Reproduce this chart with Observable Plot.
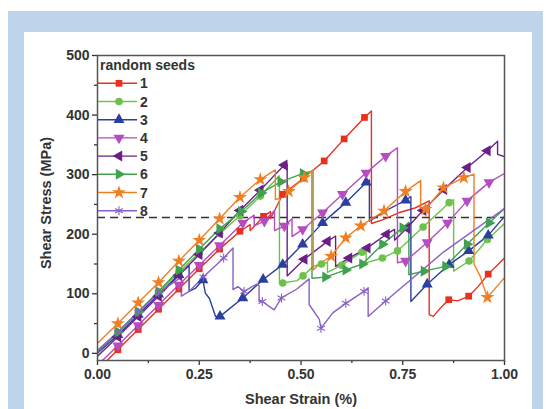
<!DOCTYPE html>
<html><head><meta charset="utf-8">
<script src="https://cdn.jsdelivr.net/npm/d3@7"></script>
<script src="https://cdn.jsdelivr.net/npm/@observablehq/plot@0.6"></script>
<style>
body{margin:0;width:552px;height:409px;overflow:hidden;background:#fff;position:relative;font-family:"Liberation Sans",Arial,sans-serif}
#blue{position:absolute;left:8px;top:11px;width:535px;height:398px;background:#bdd4ea}
#panel{position:absolute;left:24px;top:32px;width:508px;height:377px;background:#fff}
#chart{position:absolute;left:0;top:0}
</style></head><body>
<div id="blue"></div><div id="panel"></div><div id="chart"></div>
<script>
// ---- data: [strain, stress (MPa), marker?] ----
const seeds = ["1","2","3","4","5","6","7","8"];
const colors = ["#e8301f","#6cc24a","#2b3f9e","#b54cbf","#6b1f86","#3ea24f","#f07f24","#8a60c6"];
const legendTitle = "random seeds";
const xTicks = [0, 0.25, 0.5, 0.75, 1];
const xMinor = [0.125, 0.375, 0.625, 0.875];
const yTicks = [0, 100, 200, 300, 400, 500];
const yMinor = [50, 150, 250, 350, 450];
const refStress = [228];

const s1 = [[0,-28,0],[0.05,6,1],[0.10,40,1],[0.15,74,1],[0.20,108,1],[0.25,142,1],[0.30,175,1],[0.35,205,1],[0.375,216,0],[0.375,206,0],[0.408,230,1],[0.425,238,0],[0.425,226,0],[0.455,267,1],[0.506,294,1],[0.557,323,1],[0.606,360,1],[0.656,396,1],[0.673,407,0],[0.673,218,0],[0.70,224,0],[0.74,236,0],[0.78,244,0],[0.815,256,0],[0.815,65,0],[0.825,62,0],[0.845,78,0],[0.863,90,1],[0.885,88,0],[0.912,96,1],[0.935,112,0],[0.96,133,1],[1.0,160,0]];
const s2 = [[0,3,0],[0.05,35,1],[0.10,68,1],[0.15,102,1],[0.20,136,1],[0.25,169,1],[0.30,201,1],[0.35,231,1],[0.40,264,1],[0.447,298,0],[0.447,118,0],[0.455,118,1],[0.49,122,0],[0.505,130,1],[0.53,146,0],[0.55,150,1],[0.565,153,0],[0.565,136,0],[0.60,148,1],[0.65,170,1],[0.66,174,0],[0.66,152,0],[0.70,160,1],[0.737,172,1],[0.80,212,1],[0.864,253,1],[0.875,258,0],[0.875,138,0],[0.913,155,1],[0.958,191,1],[1.0,218,0]];
const s3 = [[0,0,0],[0.05,31,1],[0.10,65,1],[0.15,99,1],[0.20,132,1],[0.225,147,0],[0.225,104,0],[0.24,109,0],[0.259,123,1],[0.265,101,0],[0.275,92,0],[0.283,76,0],[0.29,62,0],[0.301,62,1],[0.357,93,1],[0.407,124,1],[0.455,149,1],[0.504,183,1],[0.553,219,1],[0.61,253,1],[0.66,287,1],[0.668,291,0],[0.668,222,0],[0.71,240,0],[0.757,257,1],[0.77,263,0],[0.77,87,0],[0.81,116,1],[0.864,149,1],[0.912,172,1],[0.96,198,1],[1.0,230,0]];
const s4 = [[0,-20,0],[0.05,13,1],[0.10,47,1],[0.15,81,1],[0.20,115,1],[0.25,148,1],[0.30,181,1],[0.357,219,1],[0.385,232,0],[0.385,214,0],[0.41,222,1],[0.435,240,0],[0.435,206,0],[0.459,214,1],[0.478,226,0],[0.478,196,0],[0.504,208,1],[0.553,236,1],[0.602,267,1],[0.66,303,1],[0.708,331,1],[0.737,345,0],[0.737,152,0],[0.757,155,1],[0.81,186,1],[0.86,219,1],[0.908,256,1],[0.962,287,1],[1.0,302,0]];
const s5 = [[0,-5,0],[0.05,28,1],[0.10,62,1],[0.15,96,1],[0.20,131,1],[0.25,166,1],[0.30,202,1],[0.35,240,1],[0.40,274,1],[0.459,316,1],[0.466,318,0],[0.466,130,0],[0.508,158,1],[0.565,188,1],[0.585,197,0],[0.585,146,0],[0.618,160,1],[0.663,177,1],[0.71,200,1],[0.73,208,0],[0.73,190,0],[0.76,210,1],[0.80,240,1],[0.851,275,1],[0.909,312,1],[0.958,340,1],[0.983,356,0],[0.983,334,0],[1.0,330,0]];
const s6 = [[0,2,0],[0.05,36,1],[0.10,70,1],[0.15,104,1],[0.20,140,1],[0.25,175,1],[0.30,209,1],[0.353,238,1],[0.402,269,1],[0.45,288,1],[0.505,302,1],[0.527,306,0],[0.527,126,0],[0.56,128,1],[0.61,140,1],[0.651,150,1],[0.70,183,1],[0.75,211,1],[0.765,220,0],[0.765,132,0],[0.802,138,1],[0.855,146,1],[0.908,183,1],[0.962,219,1],[1.0,243,0]];
const s7 = [[0,17,0],[0.05,50,1],[0.10,85,1],[0.15,119,1],[0.20,155,1],[0.25,190,1],[0.30,226,1],[0.35,262,1],[0.40,292,1],[0.437,308,0],[0.437,258,0],[0.455,262,0],[0.47,272,1],[0.508,295,1],[0.53,308,0],[0.53,140,0],[0.545,150,0],[0.574,163,1],[0.61,194,1],[0.647,214,1],[0.704,239,1],[0.757,272,1],[0.794,290,0],[0.794,242,0],[0.806,242,1],[0.85,278,1],[0.90,295,1],[0.925,301,0],[0.925,150,0],[0.94,130,0],[0.958,94,1],[1.0,127,0]];
const s8 = [[0,5,0],[0.05,36,1],[0.10,69,1],[0.15,102,1],[0.206,128,0],[0.206,96,0],[0.225,104,0],[0.26,128,1],[0.31,160,1],[0.333,177,0],[0.333,107,0],[0.345,112,0],[0.36,104,1],[0.39,116,0],[0.397,114,0],[0.397,87,0],[0.405,87,1],[0.434,73,0],[0.452,93,1],[0.49,108,0],[0.52,125,0],[0.52,82,0],[0.545,57,0],[0.549,42,1],[0.578,68,0],[0.61,84,1],[0.655,104,1],[0.665,110,0],[0.665,62,0],[0.708,88,1],[0.85,170,0],[1.0,243,0]];
const series = [s1,s2,s3,s4,s5,s6,s7,s8];

// ---- symbols ----
const sqrt3 = Math.sqrt(3);
function tri(dir){
  return {draw(ctx,size){
    const y = -Math.sqrt(size/(sqrt3*3));
    let p = [[0,2*y],[-sqrt3*y,-y],[sqrt3*y,-y]];
    if(dir==="down") p = p.map(([a,b])=>[a,-b]);
    if(dir==="left") p = p.map(([a,b])=>[b,a]);
    if(dir==="right") p = p.map(([a,b])=>[-b,a]);
    ctx.moveTo(p[0][0],p[0][1]); ctx.lineTo(p[1][0],p[1][1]); ctx.lineTo(p[2][0],p[2][1]); ctx.closePath();
  }};
}
const symbols = [d3.symbolSquare, d3.symbolCircle, tri("up"), tri("down"), tri("left"), tri("right"), d3.symbolStar, d3.symbolAsterisk];
const radii = [3.8, 3.8, 4.1, 4.1, 4.1, 4.1, 4.4, 4.2];
const strokeSym = [false,false,false,false,false,false,false,true];

const marks = [];
series.forEach((s,i)=>{
  marks.push(Plot.line(s,{x:d=>d[0],y:d=>d[1],stroke:colors[i],strokeWidth:1.4,clip:true}));
});
series.forEach((s,i)=>{
  const pts = s.filter(d=>d[2]);
  if(strokeSym[i]) marks.push(Plot.dot(pts,{x:d=>d[0],y:d=>d[1],symbol:symbols[i],r:radii[i],stroke:colors[i],strokeWidth:1.1,fill:"none",clip:true}));
  else marks.push(Plot.dot(pts,{x:d=>d[0],y:d=>d[1],symbol:symbols[i],r:radii[i],fill:colors[i],stroke:"none",clip:true}));
});

const chart = Plot.plot({
  width:552, height:409,
  marginLeft:97, marginRight:48, marginTop:55, marginBottom:49,
  x:{domain:[0,1]},
  y:{domain:[-12,500]},
  style:{background:"transparent",fontFamily:"'Liberation Sans',Arial,sans-serif",fontSize:"14px",fontWeight:"bold",color:"#333",overflow:"visible"},
  marks:[
    Plot.ruleY(refStress,{stroke:"#333",strokeDasharray:"8,5",strokeWidth:1.4}),
    ...marks,
    Plot.axisX({ticks:xTicks,tickFormat:d3.format(".2f"),tickSize:5,tickPadding:4,strokeWidth:1.3,label:null}),
    Plot.axisX({ticks:xMinor,tickSize:3,tickFormat:()=>"",strokeWidth:1.3,label:null}),
    Plot.axisY({ticks:yTicks,tickSize:5,tickPadding:3,strokeWidth:1.3,label:null}),
    Plot.axisY({ticks:yMinor,tickSize:3,tickFormat:()=>"",strokeWidth:1.3,label:null}),
    Plot.frame({stroke:"#555",strokeWidth:1.5})
  ]
});
document.getElementById("chart").appendChild(chart);

// ---- axis titles and legend ----
const svg = d3.select(chart);
const g = svg.append("g").attr("font-family","'Liberation Sans',Arial,sans-serif").attr("font-weight","bold").attr("fill","#333");
g.append("text").attr("x",301).attr("y",404).attr("text-anchor","middle").attr("font-size",14.5).text("Shear Strain (%)");
g.append("text").attr("transform","translate(51,203) rotate(-90)").attr("text-anchor","middle").attr("font-size",14.5).text("Shear Stress (MPa)");
g.append("text").attr("x",100).attr("y",70).attr("text-anchor","start").attr("font-size",14).text(legendTitle);
seeds.forEach((lab,i)=>{
  const cy = 83.3 + 18.2*i;
  g.append("line").attr("x1",98).attr("x2",137).attr("y1",cy).attr("y2",cy).attr("stroke",colors[i]).attr("stroke-width",1.4);
  const sym = d3.symbol().type(symbols[i]).size(Math.PI*radii[i]*radii[i]);
  const p = g.append("path").attr("d",sym()).attr("transform",`translate(119,${cy})`);
  if(strokeSym[i]) p.attr("fill","none").attr("stroke",colors[i]).attr("stroke-width",1.1);
  else p.attr("fill",colors[i]);
  g.append("text").attr("x",140).attr("y",cy+5).attr("text-anchor","start").attr("font-size",14).text(lab);
});
</script></body></html>
